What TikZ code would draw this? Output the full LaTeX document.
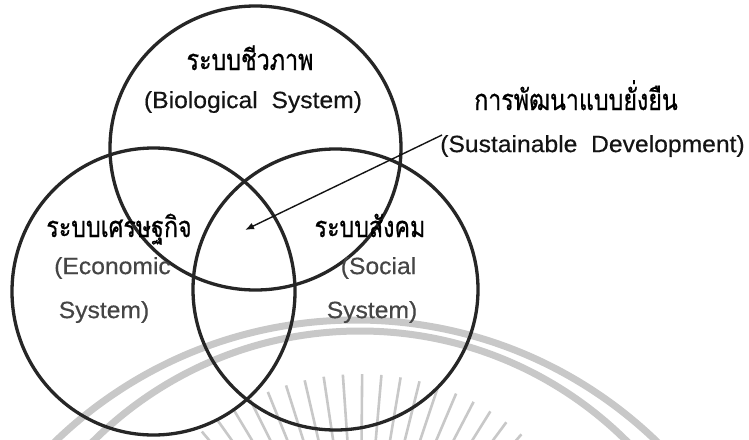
\documentclass[tikz,border=0pt]{standalone}
\usepackage{fontspec}
\setmainfont{Liberation Sans}[FakeStretch=1.05, FakeBold=0.4]
\newfontfamily\thaifont[Script=Thai, FakeStretch=0.8, FakeBold=0.7]{Loma}
\usetikzlibrary{arrows.meta,shapes.geometric,calc}

\definecolor{ink}{HTML}{141414}
\definecolor{ringink}{HTML}{262626}
\definecolor{greytext}{HTML}{454545}
\definecolor{seal}{HTML}{C8C8C8}

\tikzset{
  ring/.style={draw=ringink, line width=3.3pt, ellipse, inner sep=0pt},
  thai/.style={font=\thaifont\fontsize{29}{34}\selectfont, text=black, inner sep=0pt, anchor=base},
  eng/.style={font=\fontsize{23.5}{28}\selectfont, text=ink, inner sep=0pt},
  engsoft/.style={eng, text=greytext},
  pointer/.style={draw=ink, line width=1.4pt, -{Latex[length=9pt,width=7pt]}},
  sealring/.style={draw=seal, line width=7pt},
  sealray/.style={draw=seal, line width=2.6pt}
}

\begin{document}
\begin{tikzpicture}[x=1pt, y=-1pt]
  \useasboundingbox (0,0) rectangle (749,439);
  \fill[white] (0,0) rectangle (749,439);

  % faint seal in the background
  \begin{scope}
    \clip (0,0) rectangle (749,439);
    \draw[sealring] (356,753) circle[radius=433];
    \draw[sealring] (360,709) circle[radius=378];
    \foreach \a in {49,53.5,...,131}
      \draw[sealray] ($(360,620)+(\a:246pt)$) -- ($(360,620)+(\a:150pt)$);
  \end{scope}

  % the three systems
  \node[ring, minimum width=291pt, minimum height=284pt] (bio) at (255.5,148) {};
  \node[ring, minimum width=283pt, minimum height=287pt] (eco) at (153.5,291.5) {};
  \node[ring, minimum width=285pt, minimum height=281pt] (soc) at (335.5,289.5) {};

  % labels
  \node[thai] (bioTh) at (250,70) {ระบบชีวภาพ};
  \node[eng]  (bioEn) at (253,102) {(Biological~~System)};

  \node[thai] (sdTh) at (576,110) {การพัฒนาแบบยั่งยืน};
  \node[eng]  (sdEn) at (592.5,146) {(Sustainable~~Development)};

  \node[thai]    (ecoTh)  at (119,237) {ระบบเศรษฐกิจ};
  \node[engsoft] (ecoEn)  at (112.5,268) {(Economic};
  \node[engsoft] (ecoEn2) at (104,312) {System)};

  \node[thai]    (socTh)  at (370,237) {ระบบสังคม};
  \node[engsoft] (socEn)  at (378.5,268) {(Social};
  \node[engsoft] (socEn2) at (372,312) {System)};

  % pointer to the common area
  \coordinate (sdFoot) at (442,135);
  \coordinate (core) at (245,230);
  \draw[pointer] (sdFoot) -- (core);
\end{tikzpicture}
\end{document}
